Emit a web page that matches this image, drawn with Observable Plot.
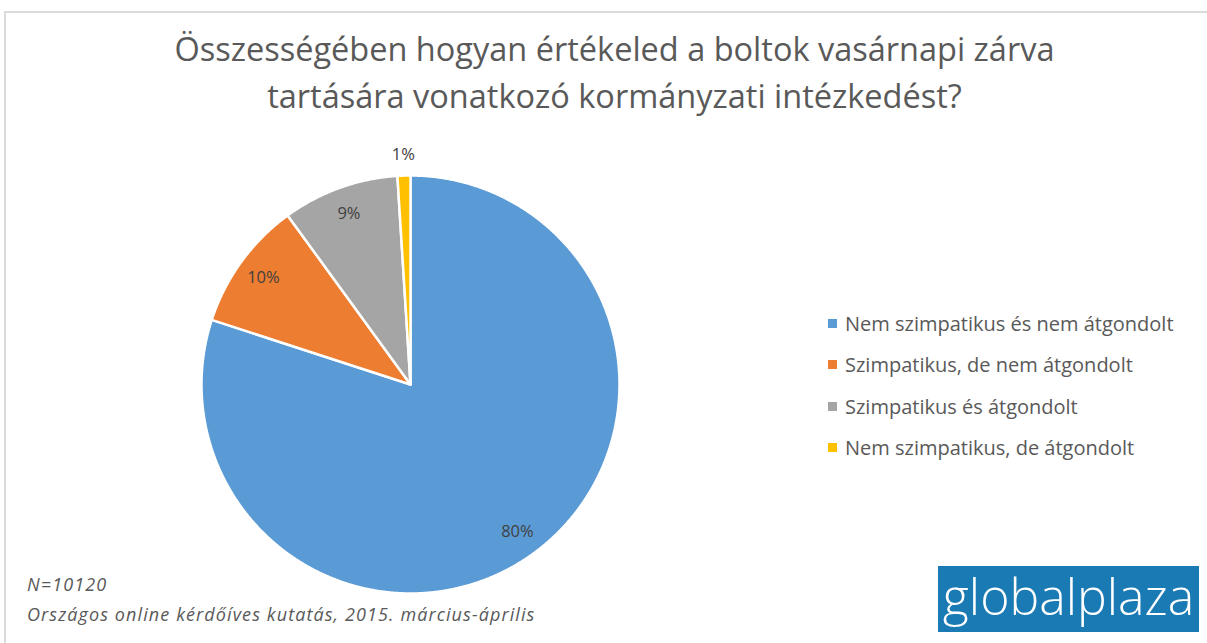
<!DOCTYPE html>
<html>
<head>
<meta charset="utf-8">
<script src="https://cdn.jsdelivr.net/npm/d3@7"></script>
<script src="https://cdn.jsdelivr.net/npm/@observablehq/plot@0.6"></script>
<style>
  html, body { margin: 0; padding: 0; background: #fff; }
  #wrap { position: relative; width: 1207px; height: 643px; overflow: hidden; font-family: "Open Sans", "Noto Sans", sans-serif; color: #595959; }
  #frame { position: absolute; left: 4px; top: 11px; width: 1220px; height: 700px; border-left: 2px solid #d9d9d9; border-top: 2px solid #d9d9d9; box-sizing: border-box; }
  #chart { position: absolute; left: 0; top: 0; }
  #title { position: absolute; left: 0; width: 1229px; top: 25px; text-align: center; font-size: 32.5px; line-height: 47px; color: #595959; }
  #legend { position: absolute; left: 828px; top: 303px; font-size: 20px; }
  #legend .row { height: 41.3px; display: flex; align-items: center; white-space: nowrap; }
  #legend .sw { width: 9px; height: 9px; margin-right: 8px; }
  #note { position: absolute; left: 27px; top: 569px; font-style: italic; font-size: 18px; letter-spacing: 1.1px; line-height: 30px; color: #595959; }
  #logo { position: absolute; left: 938px; top: 566px; width: 261px; height: 66px; background: #1a7ab4; color: #fff; font-size: 50px; font-weight: 300; line-height: 60px; text-align: center; letter-spacing: 0px; }
</style>
</head>
<body>
<div id="wrap">
  <div id="frame"></div>
  <div id="chart"></div>
  <div id="title"></div>
  <div id="legend"></div>
  <div id="note"></div>
  <div id="logo">globalplaza</div>
</div>
<script>
const titleLines = ["Összességében hogyan értékeled a boltok vasárnapi zárva", "tartására vonatkozó kormányzati intézkedést?"];
const categories = ["Nem szimpatikus és nem átgondolt", "Szimpatikus, de nem átgondolt", "Szimpatikus és átgondolt", "Nem szimpatikus, de átgondolt"];
const values = [80, 10, 9, 1];
const colors = ["#5b9bd5", "#ed7d31", "#a5a5a5", "#ffc000"];
const noteLines = ["N=10120", "Országos online kérdőíves kutatás, 2015. március-április"];

document.getElementById("title").innerHTML = titleLines.join("<br>");
document.getElementById("note").innerHTML = noteLines.join("<br>");
const legend = document.getElementById("legend");
categories.forEach((c, i) => {
  const row = document.createElement("div");
  row.className = "row";
  row.innerHTML = `<span class="sw" style="background:${colors[i]}"></span><span>${c}</span>`;
  legend.appendChild(row);
});

const data = categories.map((c, i) => ({cat: c, value: values[i]}));
const arcs = d3.pie().sort(null).value(d => d.value)(data);

// polygon vertices for each slice, in unit-circle coordinates
const poly = [];
arcs.forEach(a => {
  const cat = a.data.cat;
  poly.push({cat, x: 0, y: 0});
  const n = Math.max(2, Math.ceil((a.endAngle - a.startAngle) / 0.005));
  for (let k = 0; k <= n; k++) {
    const t = a.startAngle + (a.endAngle - a.startAngle) * k / n;
    poly.push({cat, x: Math.sin(t), y: Math.cos(t)});
  }
});

const labels = arcs.map(a => {
  const m = (a.startAngle + a.endAngle) / 2;
  const r = a.data.value < 3 ? 1.1 : 0.87;
  return {x: r * Math.sin(m), y: r * Math.cos(m), text: a.data.value + "%"};
});

const cx = 410, cy = 384, R = 209;
const chart = Plot.plot({
  width: 1207,
  height: 643,
  margin: 0,
  x: {domain: [-1, 1], range: [cx - R, cx + R], axis: null},
  y: {domain: [-1, 1], range: [cy + R, cy - R], axis: null},
  color: {domain: categories, range: colors},
  marks: [
    Plot.line(poly, {x: "x", y: "y", z: "cat", fill: "cat", stroke: "white", strokeWidth: 2.5, curve: "linear-closed"}),
    Plot.text(labels, {x: "x", y: "y", text: "text", fill: "#404040", fontSize: 16.5, fontFamily: "Open Sans, sans-serif"})
  ]
});
document.getElementById("chart").appendChild(chart);
</script>
</body>
</html>
